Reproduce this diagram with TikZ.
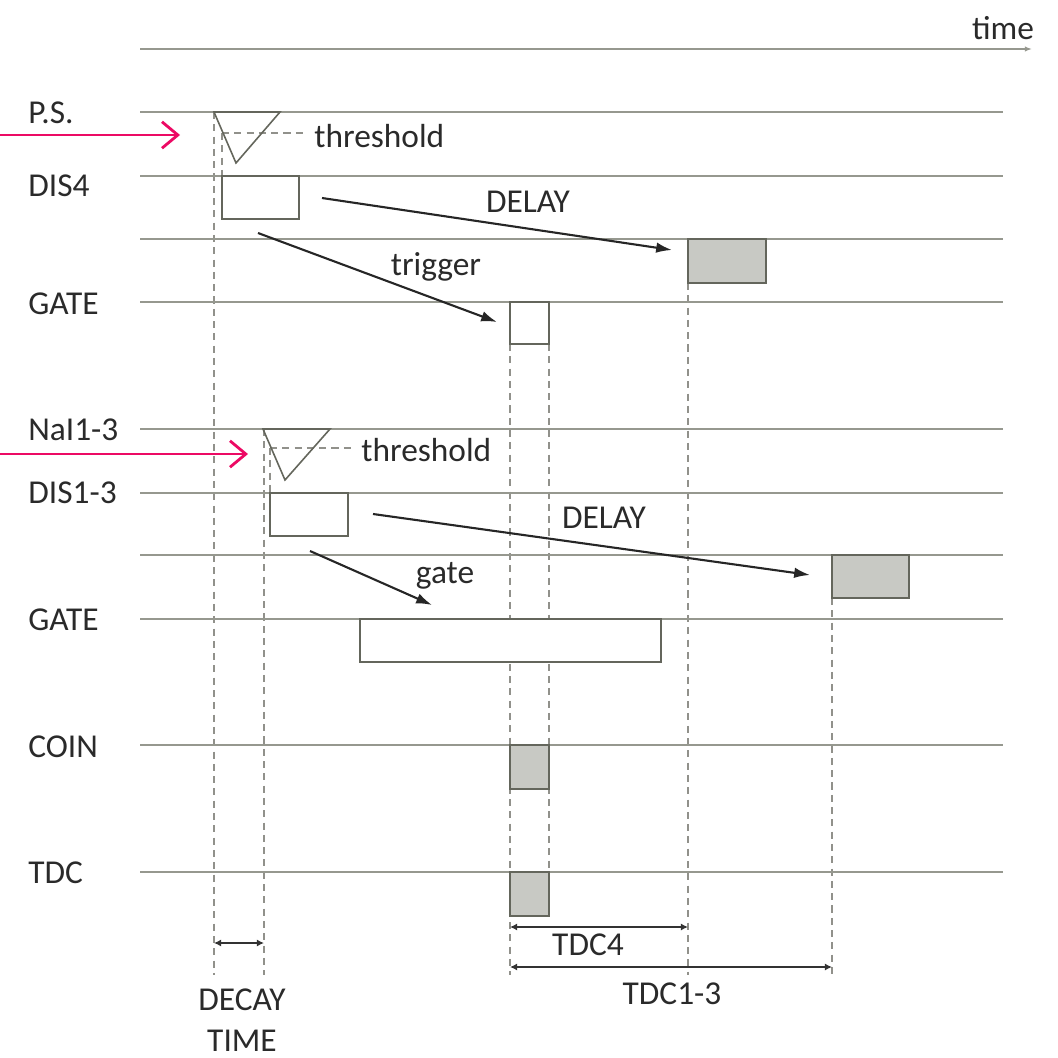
\documentclass[tikz,border=0pt]{standalone}
\usepackage{fontspec}
\setmainfont{Carlito}
\usetikzlibrary{arrows.meta}
\definecolor{trackgray}{RGB}{150,152,143}
\definecolor{edgegray}{RGB}{100,102,92}
\definecolor{pulsefill}{RGB}{200,201,196}
\definecolor{guidegray}{RGB}{145,145,139}
\definecolor{textgray}{RGB}{42,42,42}
\definecolor{hitred}{RGB}{236,10,100}
\begin{document}
\begin{tikzpicture}[x=0.02cm, y=-0.02cm,
  every node/.style={font=\fontsize{19}{22}\selectfont, text=textgray, inner sep=0pt},
  chan/.style={anchor=west},
  track/.style={draw=trackgray, line width=1.4pt},
  guide/.style={draw=guidegray, line width=0.9pt, dash pattern=on 4pt off 3pt},
  pulse/.style={draw=edgegray, line width=0.9pt, fill=white},
  outpulse/.style={draw=edgegray, line width=0.9pt, fill=pulsefill},
  flow/.style={-{Latex[length=9pt,width=6pt]}, line width=1.2pt, draw=black!85},
  span/.style={{Latex[length=4pt,width=4pt]}-{Latex[length=4pt,width=4pt]}, line width=0.9pt, draw=black!80},
  hit/.style={-{Straight Barb[length=9pt,width=15pt]}, line width=1.6pt, draw=hitred}
]
\useasboundingbox (0,0) rectangle (1058,1058);

% eixo do tempo
\coordinate (t0) at (140,49);
\coordinate (t1) at (1032,49);
\draw[track, -{Latex[length=4pt,width=3pt]}] (t0) -- (t1);
\node (time) at (1003,28) {time};

% linhas de referencia (tracejadas)
\draw[guide] (214,112) -- (214,975);
\draw[guide] (264,429) -- (264,975);
\draw[guide] (222,133) -- (222,176);
\draw[guide] (270,448) -- (270,493);
\draw[guide] (510,344) -- (510,975);
\draw[guide] (549,344) -- (549,872);
\draw[guide] (688,283) -- (688,975);
\draw[guide] (832,598) -- (832,975);
\draw[guide] (222,133) -- (304,133);
\draw[guide] (270,448) -- (354,448);

% canais
\node[chan] (ps) at (28,113) {P.S.};
\node[chan] (dis4) at (28,186) {DIS4};
\node[chan] (gatea) at (28,304) {GATE};
\node[chan] (nai) at (28,430) {NaI1-3};
\node[chan] (dis13) at (28,493) {DIS1-3};
\node[chan] (gateb) at (28,620) {GATE};
\node[chan] (coin) at (28,747) {COIN};
\node[chan] (tdc) at (28,873) {TDC};
\draw[track] (140,112) -- (1003,112);
\draw[track] (140,176) -- (1003,176);
\draw[track] (140,239) -- (1003,239);
\draw[track] (140,302) -- (1003,302);
\draw[track] (140,429) -- (1003,429);
\draw[track] (140,493) -- (1003,493);
\draw[track] (140,555) -- (1003,555);
\draw[track] (140,619) -- (1003,619);
\draw[track] (140,745) -- (1003,745);
\draw[track] (140,872) -- (1003,872);

% bloco P.S. / DIS4
\draw[edgegray, line width=0.9pt] (214,112) -- (280,112) -- (236,163) -- cycle;
\node[anchor=west] (thra) at (314,136) {threshold};
\draw[pulse] (222,176) rectangle (299,219);
\draw[pulse] (510,302) rectangle (549,344);
\draw[outpulse] (688,239) rectangle (766,283);
\coordinate (dla0) at (322,198);
\coordinate (dla1) at (672,250);
\draw[flow] (dla0) -- (dla1);
\node (dlya) at (528,202) {DELAY};
\coordinate (trg0) at (258,233);
\coordinate (trg1) at (497,322);
\draw[flow] (trg0) -- (trg1);
\node (trg) at (436,267) {trigger};

% bloco NaI1-3 / DIS1-3
\draw[edgegray, line width=0.9pt] (263,429) -- (330,429) -- (285,480) -- cycle;
\node[anchor=west] (thrb) at (361,450) {threshold};
\draw[pulse] (270,493) rectangle (348,536);
\draw[pulse] (360,619) rectangle (661,662);
\draw[outpulse] (832,555) rectangle (909,598);
\coordinate (dlb0) at (373,514);
\coordinate (dlb1) at (810,575);
\draw[flow] (dlb0) -- (dlb1);
\node (dlyb) at (604,518) {DELAY};
\coordinate (gt0) at (310,551);
\coordinate (gt1) at (432,605);
\draw[flow] (gt0) -- (gt1);
\node (gt) at (445,576) {gate};

% coincidencia e TDC
\draw[outpulse] (510,745) rectangle (549,789);
\draw[outpulse] (510,872) rectangle (549,916);

% entradas
\coordinate (ina0) at (0,135);
\coordinate (ina1) at (180,135);
\draw[hit] (ina0) -- (ina1);
\coordinate (inb0) at (0,454);
\coordinate (inb1) at (248,454);
\draw[hit] (inb0) -- (inb1);

% intervalos
\coordinate (dk0) at (214,943);
\coordinate (dk1) at (264,943);
\draw[span] (dk0) -- (dk1);
\node[align=center] (decay) at (242,1020) {DECAY\\[1pt]TIME};
\coordinate (ta0) at (510,927);
\coordinate (ta1) at (688,927);
\draw[span] (ta0) -- (ta1);
\node (tdca) at (588,945) {TDC4};
\coordinate (tb0) at (510,967);
\coordinate (tb1) at (832,967);
\draw[span] (tb0) -- (tb1);
\node (tdcb) at (672,994) {TDC1-3};
\end{tikzpicture}
\end{document}
